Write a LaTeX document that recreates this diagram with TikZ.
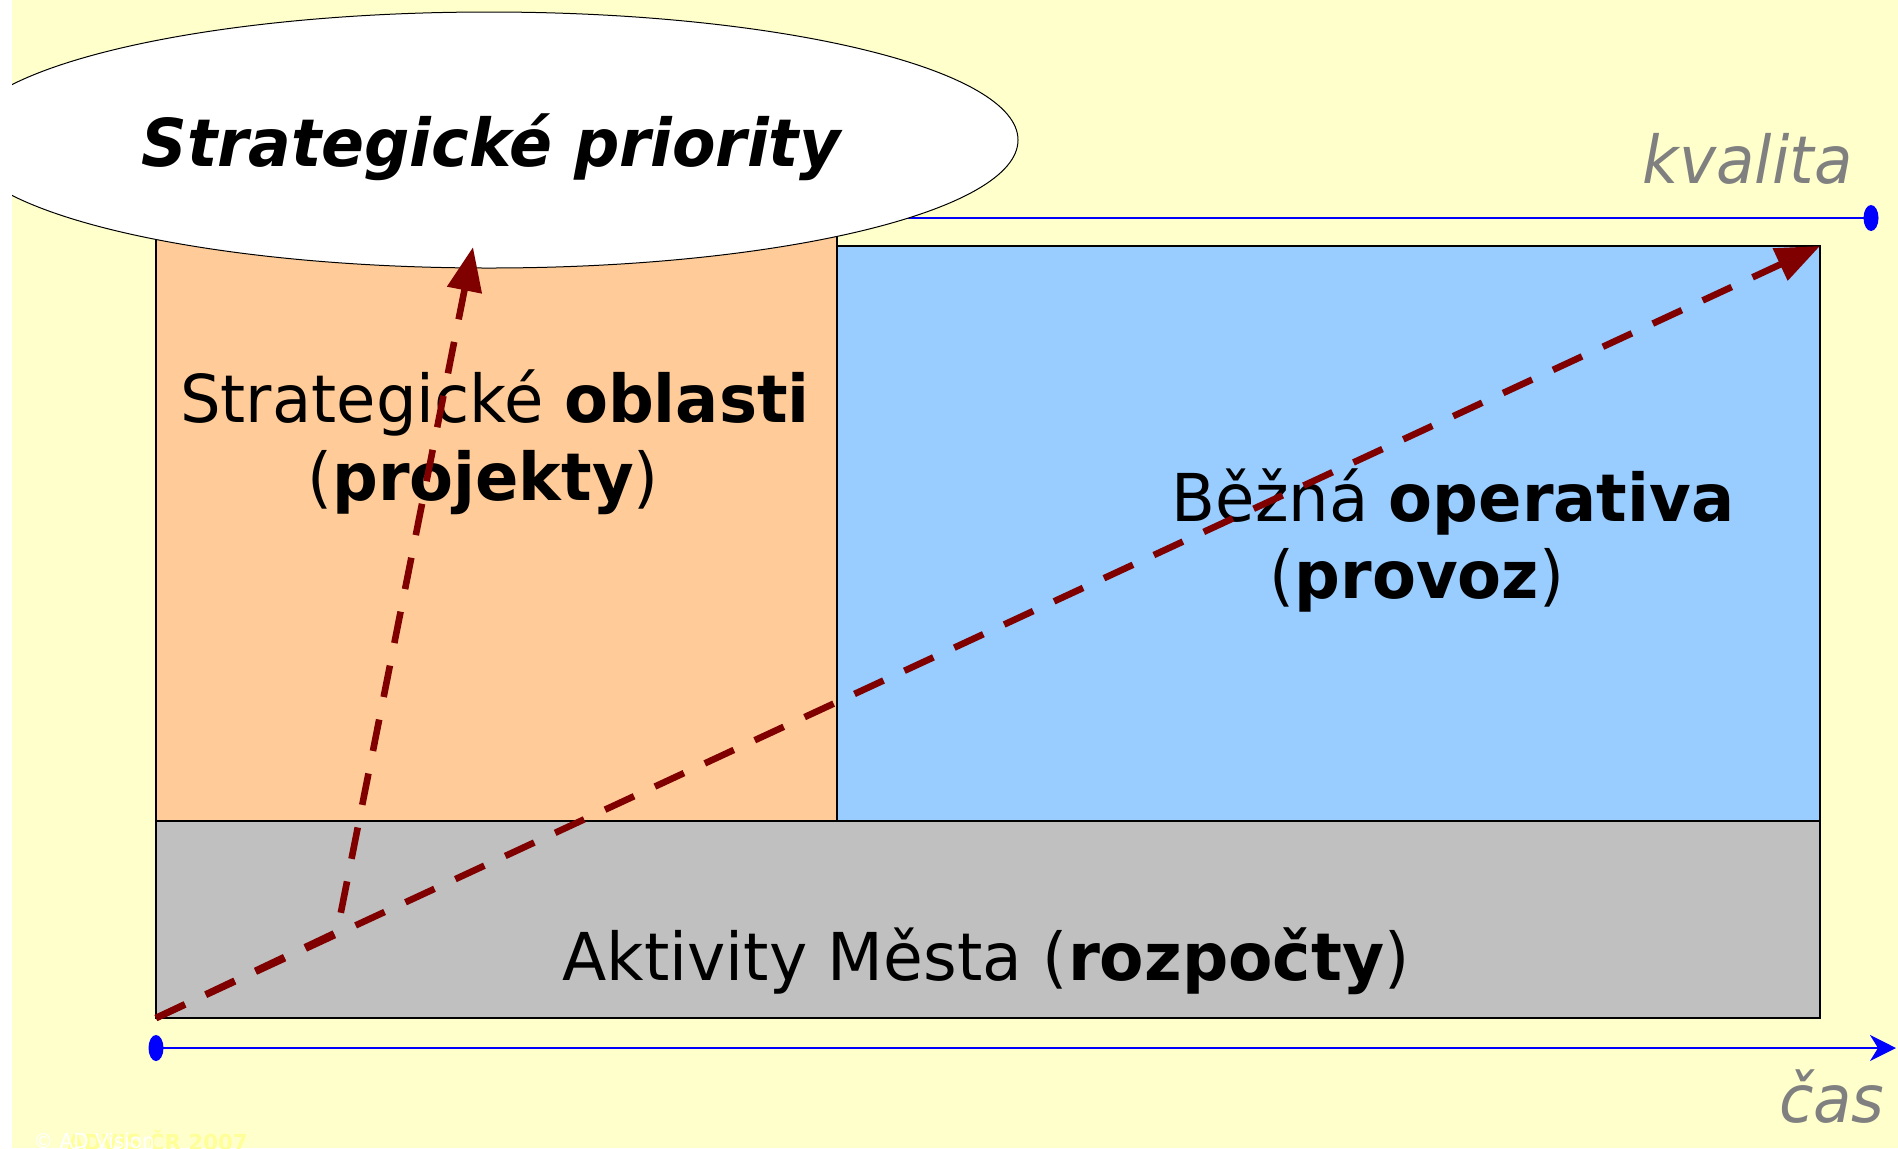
\documentclass[tikz,border=0pt]{standalone}
\usepackage{fontspec}
\setmainfont{DejaVu Sans}[FakeStretch=0.97]
\newfontfamily\priofont{DejaVu Sans}[FakeStretch=0.96]
\newfontfamily\aktfont{DejaVu Sans}[FakeStretch=0.98]
\newfontfamily\axisfont{DejaVu Sans}[FakeStretch=0.95]
\usetikzlibrary{shapes.geometric,arrows.meta}
\definecolor{bgyellow}{HTML}{FFFFCC}
\definecolor{orangefill}{HTML}{FFCC99}
\definecolor{bluefill}{HTML}{99CCFF}
\definecolor{greyfill}{HTML}{C0C0C0}
\definecolor{darkred}{HTML}{800000}
\definecolor{axisblue}{HTML}{0000FF}
\definecolor{labelgrey}{HTML}{808080}
\definecolor{wmyellow}{HTML}{FFFF99}
\tikzset{
  areabox/.style={draw=black, line width=0.75pt, inner sep=0pt, outer sep=0pt, anchor=north west},
  maintext/.style={inner sep=0pt, anchor=base, font=\fontsize{33}{40}\selectfont},
  axislabel/.style={inner sep=0pt, anchor=base east, text=labelgrey, font=\axisfont\itshape\fontsize{33}{40}\selectfont},
  axisline/.style={draw=axisblue, line width=1.3pt},
  axisdot/.style={ellipse, fill=axisblue, inner sep=0pt, minimum width=7.5pt, minimum height=13pt},
  flow/.style={draw=darkred, line width=3.3pt, dash pattern=on 16pt off 11.5pt,
    -{Triangle[length=22pt,width=17pt]}},
}
\begin{document}
\begin{tikzpicture}[x=0.5pt,y=-0.5pt]
\useasboundingbox (0,0) rectangle (1898,1148);
\fill[white] (0,0) rectangle (1898,1148);
\fill[bgyellow] (12,0) rectangle (1898,1148);

% upper axis (kvalita)
\coordinate (kstart) at (156,218);
\node[axisdot] (kdot) at (1871,218) {};
\draw[axisline] (kstart) -- (kdot.center);

% areas
\node[areabox, fill=orangefill, minimum width=340.5pt, minimum height=295.5pt] (proj) at (156,230) {};
\node[areabox, fill=bluefill, minimum width=491.5pt, minimum height=287.5pt] (oper) at (837,246) {};
\node[areabox, fill=greyfill, minimum width=832pt, minimum height=98.5pt] (akt) at (156,821) {};

% ellipse
\node[draw=black, line width=0.5pt, ellipse, fill=white, inner sep=0pt,
      minimum width=529pt, minimum height=128pt] (prio) at (489,140) {};
\node[maintext, font=\priofont\bfseries\itshape\fontsize{33}{40}\selectfont] (priotext) at (491,166) {Strategické priority};

% texts
\node[maintext] (so1) at (495,422) {Strategické \textbf{oblasti}};
\node[maintext] (so2) at (483,500) {(\textbf{projekty})};
\node[maintext] (bo1) at (1453,521) {Běžná \textbf{operativa}};
\node[maintext] (bo2) at (1417,598) {(\textbf{provoz})};
\node[maintext, font=\aktfont\fontsize{33}{40}\selectfont] (akttext) at (986,980) {Aktivity Města (\textbf{rozpočty})};

\node[axislabel] (kval) at (1853,183) {kvalita};
\node[axislabel] (cas) at (1885,1122) {čas};

% lower axis (čas)
\node[axisdot] (tdot) at (156,1048) {};
\coordinate (tend) at (1896,1048);
\draw[axisline, -{Stealth[length=13pt,width=13pt,inset=4pt]}] (tdot.center) -- (tend);

% dashed arrows
\coordinate (orig) at (156,1018);
\coordinate (bend) at (337,932);
\coordinate (tipP) at (473,247);
\coordinate (tipQ) at (1820,246);
\draw[flow] (orig) -- (bend) -- (tipP);
\draw[flow] (orig) -- (tipQ);

% left margin
\fill[white] (0,0) rectangle (12,1148);

% watermark
\node[inner sep=0pt, anchor=base west, text=wmyellow, font=\bfseries\fontsize{11}{13}\selectfont] (wm2) at (67,1150) {ADVIS ČR 2007};
\node[inner sep=0pt, anchor=base west, text=white, font=\fontsize{10.3}{12}\selectfont] (wm1) at (33,1148) {© AD Vision};
\end{tikzpicture}
\end{document}
